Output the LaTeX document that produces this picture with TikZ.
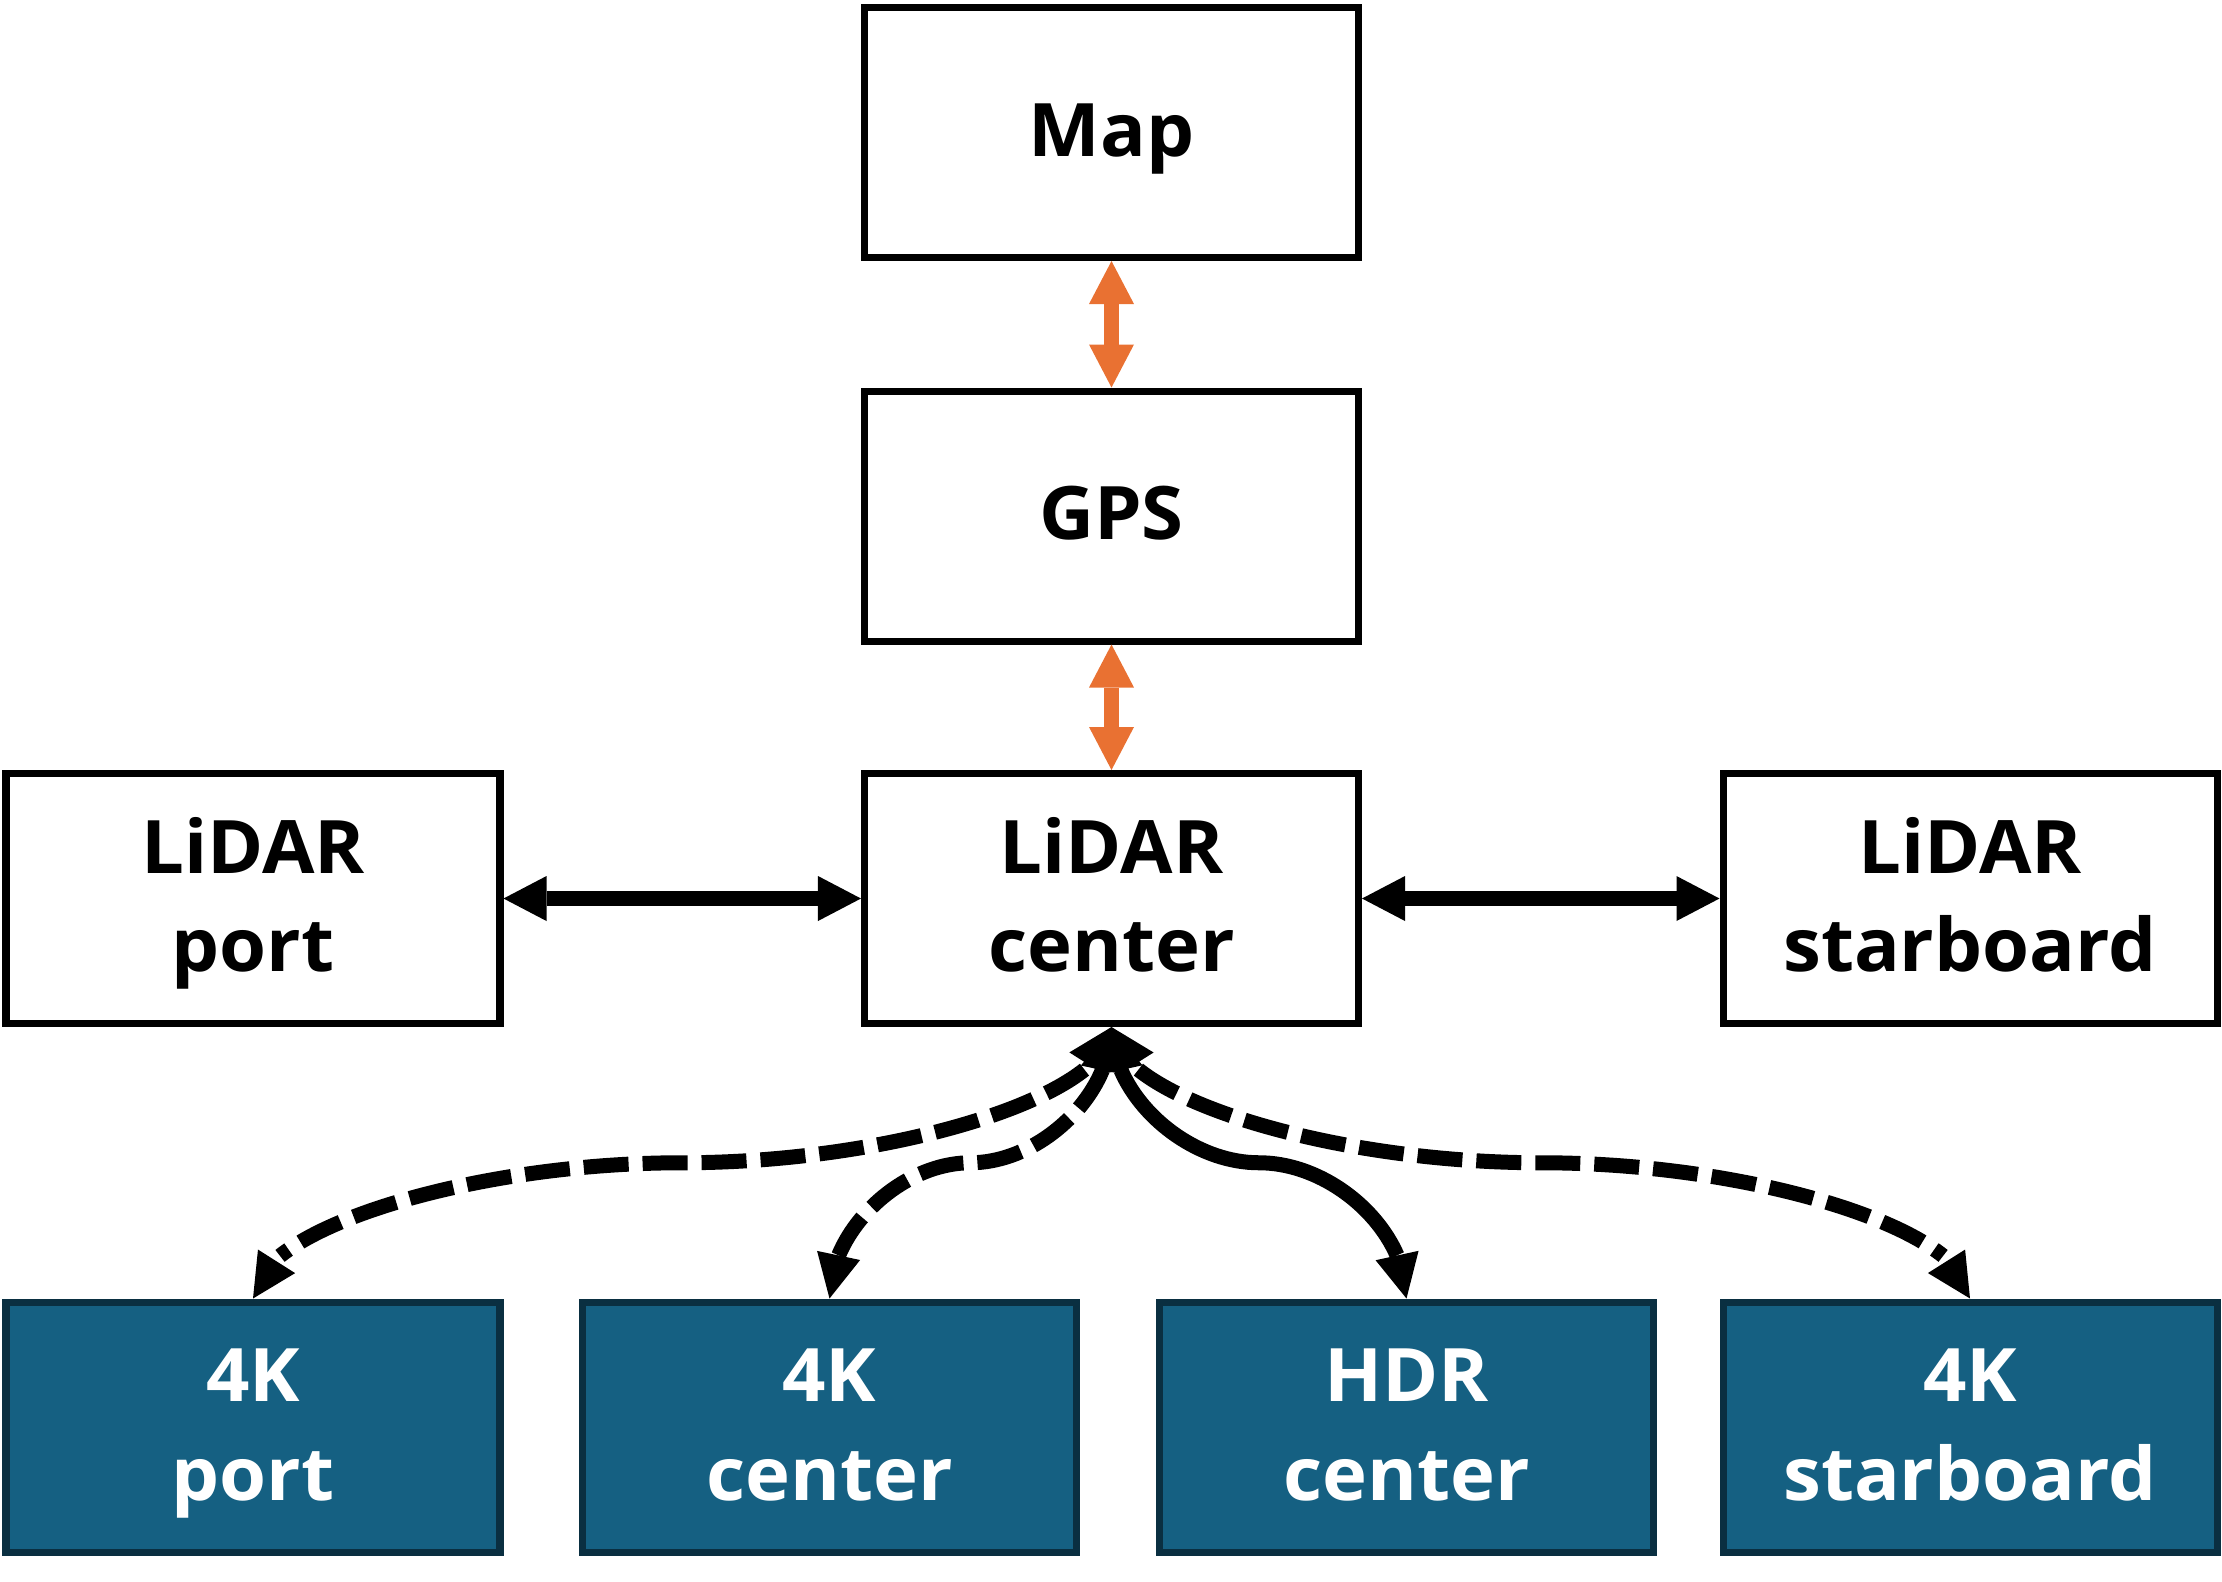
\documentclass[tikz,border=0pt]{standalone}
\usepackage{fontspec}
\setmainfont{Open Sans}[FakeStretch=1.03]
\usetikzlibrary{arrows.meta,bending,calc}
\definecolor{camblue}{HTML}{156082}
\definecolor{camedge}{HTML}{0A2F41}
\definecolor{linkorange}{HTML}{E97132}

\begin{document}
\begin{tikzpicture}[
  box/.style={rectangle, draw=black, line width=2pt, minimum width=4.94cm,
    minimum height=2.50cm, align=center,
    font=\fontsize{21}{28}\selectfont\bfseries,
    text height=20.8pt, text depth=7.2pt},
  pairbox/.style={box, text height=48.8pt},
  cambox/.style={pairbox, draw=camedge, fill=camblue, text=white},
  fatlink/.style={{Triangle[width=0.45cm,length=0.43cm,line width=0pt]}-%
    {Triangle[width=0.45cm,length=0.43cm,line width=0pt]}, line width=0.15cm},
  camlink/.style={{Triangle[flex,width=0.44cm,length=0.44cm,line width=0pt]}-%
    {Triangle[flex,width=0.44cm,length=0.44cm,line width=0pt]}, line width=0.15cm},
  camdash/.style={camlink, dash pattern=on 0.45cm off 0.14cm},
]
\useasboundingbox (0,0) rectangle (22.22,-15.81);

% sensor boxes
\node[box] (map) at (11.115, -1.325) {Map};
\node[box] (gps) at (11.115, -5.16) {GPS};

\node[pairbox] (lport) at (2.53, -8.985) {LiDAR\\port};
\node[pairbox] (lcenter) at (11.115, -8.985) {LiDAR\\center};
\node[pairbox] (lstar) at (19.70, -8.985) {LiDAR\\starboard};

\node[cambox] (kport) at (2.53, -14.27) {4K\\port};
\node[cambox] (kcenter) at (8.295, -14.27) {4K\\center};
\node[cambox] (hdr) at (14.065, -14.27) {HDR\\center};
\node[cambox] (kstar) at (19.70, -14.27) {4K\\starboard};

\draw[fatlink, linkorange] (map) -- (gps);
\draw[fatlink, linkorange] (gps) -- (lcenter);

\draw[fatlink] (lport) -- (lcenter);
\draw[fatlink] (lcenter) -- (lstar);

% camera links
\draw[camdash] (lcenter.south) .. controls +(0,-0.68) and +(2.14,0)
  .. ($(lcenter.south)!0.5!(kport.north)$) .. controls +(-2.14,0) and +(0,0.68)
  .. (kport.north);
\draw[camdash] (lcenter.south) .. controls +(0,-0.68) and +(0.70,0)
  .. ($(lcenter.south)!0.5!(kcenter.north)$) .. controls +(-0.70,0) and +(0,0.68)
  .. (kcenter.north);
\draw[camlink] (lcenter.south) .. controls +(0,-0.68) and +(-0.74,0)
  .. ($(lcenter.south)!0.5!(hdr.north)$) .. controls +(0.74,0) and +(0,0.68)
  .. (hdr.north);
\draw[camdash] (lcenter.south) .. controls +(0,-0.68) and +(-2.15,0)
  .. ($(lcenter.south)!0.5!(kstar.north)$) .. controls +(2.15,0) and +(0,0.68)
  .. (kstar.north);

\end{tikzpicture}
\end{document}
